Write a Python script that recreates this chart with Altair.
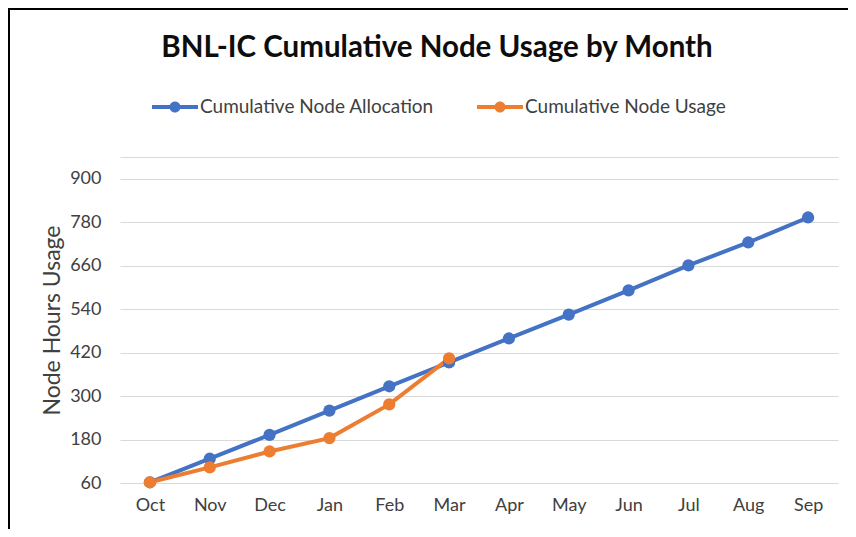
import altair as alt
import pandas as pd

months = ["Oct", "Nov", "Dec", "Jan", "Feb", "Mar", "Apr", "May", "Jun", "Jul", "Aug", "Sep"]
allocation = [62, 127, 193, 260, 327, 393, 459, 525, 592, 661, 724, 793]
usage_months = ["Oct", "Nov", "Dec", "Jan", "Feb", "Mar"]
usage = [62, 103, 147, 184, 277, 404]
y_ticks = [60, 180, 300, 420, 540, 660, 780, 900, 960]

series_names = ["Cumulative Node Allocation", "Cumulative Node Usage"]
series_colors = ["#4472C4", "#ED7D31"]

rows = []
for m, v in zip(months, allocation):
    rows.append({"month": m, "value": v, "series": series_names[0]})
for m, v in zip(usage_months, usage):
    rows.append({"month": m, "value": v, "series": series_names[1]})
df = pd.DataFrame(rows)

FONT = "Lato"
legend_symbol = ("M-2.3,-0.2 L2.3,-0.2 L2.3,0.2 L-2.3,0.2 Z "
                 "M-0.55,0 A0.55,0.55 0 1,1 0.55,0 A0.55,0.55 0 1,1 -0.55,0 Z")

color = alt.Color(
    "series:N",
    scale=alt.Scale(domain=series_names, range=series_colors),
    legend=alt.Legend(
        title=None,
        orient="none",
        direction="horizontal",
        legendX=45,
        legendY=-60,
        symbolType=legend_symbol,
        symbolSize=400,
        symbolStrokeWidth=0,
        labelOffset=15,
        columnPadding=43,
        labelLimit=400,
        labelFont=FONT,
        labelFontSize=19,
        labelColor="#404040",
    ),
)

x = alt.X(
    "month:N",
    sort=months,
    scale=alt.Scale(type="point", padding=0.5),
    axis=alt.Axis(
        title=None, domain=False, ticks=False, grid=False,
        labelFont=FONT, labelFontSize=18, labelColor="#404040",
        labelPadding=13, labelAngle=0,
    ),
)
y = alt.Y(
    "value:Q",
    scale=alt.Scale(domain=[60, 960], nice=False, zero=False),
    axis=alt.Axis(
        title="Node Hours Usage", values=y_ticks,
        labelExpr="datum.value == 960 ? '' : datum.label",
        domain=False, ticks=False, grid=True, gridColor="#d9d9d9", gridWidth=1,
        labelFont=FONT, labelFontSize=18, labelColor="#404040", labelPadding=19,
        titleFont=FONT, titleFontSize=23, titleFontWeight="normal", titleColor="#404040",
        titlePadding=5,
    ),
)

lines = alt.Chart(df).mark_line(strokeWidth=4).encode(x=x, y=y, color=color)
points = alt.Chart(df).mark_point(filled=True, size=150, opacity=1).encode(x=x, y=y, color=color)

frame_left = alt.Chart().mark_rule(color="#000000", strokeWidth=2).encode(
    x=alt.value(-111), y=alt.value(-149), y2=alt.value(372))
frame_top = alt.Chart().mark_rule(color="#000000", strokeWidth=2).encode(
    x=alt.value(-111), x2=alt.value(728), y=alt.value(-148))

chart = alt.layer(lines, points, frame_left, frame_top).properties(
    width=718,
    height=326,
    title=alt.TitleParams(
        "BNL-IC Cumulative Node Usage by Month",
        font=FONT, fontSize=29.5, fontWeight="bold", color="#0d0d0d",
        anchor="middle", dx=-42, dy=56, offset=0,
    ),
    autosize=alt.AutoSizeParams(type="none"),
    padding={"left": 112, "top": 149, "right": 10, "bottom": 46},
).configure(background="white").configure_view(stroke="transparent", strokeWidth=0)

chart.save("out.html", embed_options={"renderer": "svg", "actions": False})
